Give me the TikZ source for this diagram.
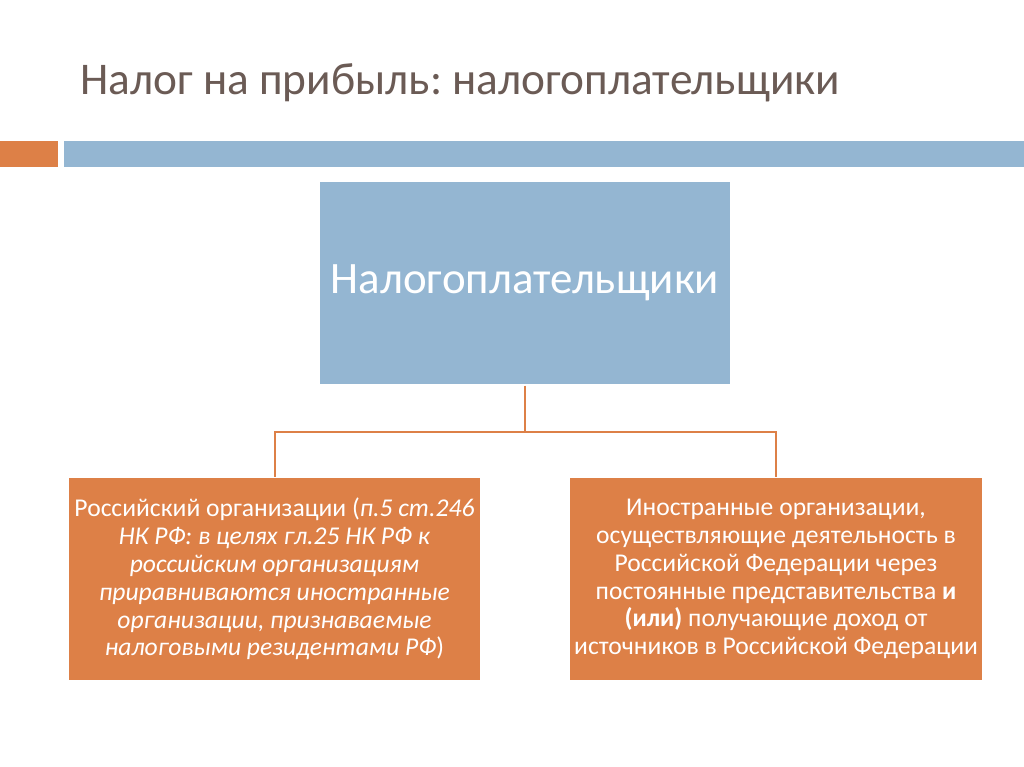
\documentclass[tikz,border=0pt]{standalone}
\usepackage{fontspec}
\setmainfont{Carlito}
\frenchspacing
\definecolor{accblue}{HTML}{94B6D2}
\definecolor{accorange}{HTML}{DD8047}
\definecolor{titlegray}{HTML}{6B5B55}
\tikzset{
  bluebox/.style={fill=accblue, draw=white, line width=1pt, minimum width=412*0.75pt, minimum height=204*0.75pt, inner sep=0pt, text=white, font=\fontsize{33.7}{40}\selectfont},
  orangebox/.style={fill=accorange, draw=white, line width=1pt, minimum width=413*0.75pt, minimum height=203*0.75pt, inner sep=0pt, text=white, align=center, font=\fontsize{19.2}{20.9}\selectfont},
  conn/.style={draw=accorange, line width=1.6pt},
}
\begin{document}
\begin{tikzpicture}[x=0.75pt,y=-0.75pt]
\useasboundingbox (0,0) rectangle (1024,767);
\fill[white] (0,0) rectangle (1024,767);
% bars
\fill[accorange] (0,141) rectangle (58,167);
\fill[accblue] (64,141) rectangle (1024,167);
% title
\node[anchor=base west, inner sep=0pt, text=titlegray, font=\fontsize{34}{40}\selectfont] (title) at (80,94) {Налог на прибыль: налогоплательщики};
% boxes
\node[bluebox] (top) at (525,283) {Налогоплательщики};
\node[orangebox] (left) at (274.5,579) {Российский организации (\textit{п.5 ст.246}\\\textit{НК РФ: в целях гл.25 НК РФ к}\\\textit{российским организациям}\\\textit{приравниваются иностранные}\\\textit{организации, признаваемые}\\\textit{налоговыми резидентами РФ})};
\node[orangebox] (right) at (776,579) {Иностранные организации,\\осуществляющие деятельность в\\Российской Федерации через\\постоянные представительства \textbf{и}\\\textbf{(или)} получающие доход от\\источников в Российской Федерации};
% connectors
\coordinate (hub) at (525,432);
\draw[conn] (top.south) -- (hub);
\draw[conn] (left.north -| 275,0) |- (hub);
\draw[conn] (right.north) |- (hub);
\end{tikzpicture}
\end{document}
